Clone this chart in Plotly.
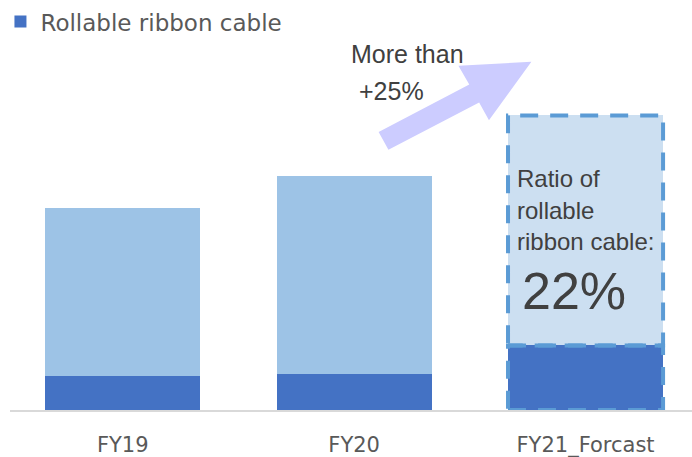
import plotly.graph_objects as go

# index values (FY19 total = 100)
years = ["FY19", "FY20", "FY21_Forcast"]
ribbon = [17, 18, 32]          # rollable ribbon cable
other = [83, 98, 114]          # rest of the bar
other_colors = ["#9DC3E6", "#9DC3E6", "#CCDFF1"]

W, H = 692, 457
L, R, T, B = 0, 0, 40, 47
PW, PH = W - L - R, H - T - B


def px_to_paper(x, y):
    return (x - L) / PW, (H - B - y) / PH


fig = go.Figure()
fig.add_trace(go.Bar(
    x=years, y=ribbon, name="Rollable ribbon cable",
    marker=dict(color="#4472C4", line=dict(width=0)), width=0.67,
))
fig.add_trace(go.Bar(
    x=years, y=other, name="Other", showlegend=False,
    marker=dict(color=other_colors, line=dict(width=0)), width=0.67,
))

# dashed outlines around the forecast bar
i = 2
total = ribbon[i] + other[i]
dash = dict(color="#5B9BD5", width=4, dash="18px,12px")
fig.add_shape(type="rect", xref="x", yref="y", x0=i - 0.335, x1=i + 0.335,
              y0=ribbon[i], y1=total, line=dash)
fig.add_shape(type="rect", xref="x", yref="y", x0=i - 0.335, x1=i + 0.335,
              y0=0, y1=ribbon[i], line=dash)

# big growth arrow
pts = [(374, 129), (466, 81), (455, 62), (529, 58), (486, 117), (476, 99), (384, 147)]
path = "M " + " L ".join("%.4f,%.4f" % px_to_paper(x, y) for x, y in pts) + " Z"
fig.add_shape(type="path", xref="paper", yref="paper", path=path,
              fillcolor="#CCCCFF", line=dict(width=0), layer="above")

txt = dict(family="Arial, Liberation Sans", color="#404040")
for t, (x, y) in [("More than", (344, 50)), ("+25%", (352, 88))]:
    xp, yp = px_to_paper(x, y)
    fig.add_annotation(text=t, x=xp, y=yp, xref="paper", yref="paper", showarrow=False,
                       xanchor="left", yanchor="middle", font=dict(size=25, **txt))

for k, t in enumerate(["Ratio of", "rollable", "ribbon cable:"]):
    xp, yp = px_to_paper(512, 176 + 32 * k)
    fig.add_annotation(text=t, x=xp, y=yp, xref="paper", yref="paper", showarrow=False,
                       xanchor="left", yanchor="middle", font=dict(size=24, **txt))
xp, yp = px_to_paper(517, 290)
fig.add_annotation(text="%d%%" % round(100 * ribbon[i] / total), x=xp, y=yp,
                   xref="paper", yref="paper", showarrow=False,
                   xanchor="left", yanchor="middle", font=dict(size=52, **txt))

fig.update_layout(
    width=W, height=H, barmode="stack",
    margin=dict(l=L, r=R, t=T, b=B),
    plot_bgcolor="white", paper_bgcolor="white",
    font=dict(family="DejaVu Sans, Verdana", color="#595959"),
    legend=dict(orientation="h", x=-0.014, y=1.12, xanchor="left", yanchor="top",
                font=dict(size=23, color="#595959"), itemwidth=30),
    xaxis=dict(range=[-0.487, 2.46], showline=True, linecolor="#D9D9D9", linewidth=2,
               ticks="", ticklabelstandoff=15, automargin=False,
               tickfont=dict(size=21, color="#595959")),
    yaxis=dict(range=[0, PH / 2.04], visible=False, automargin=False),
)

fig.write_html("out.html", config={"displayModeBar": False},
               post_script="document.body.style.margin='0px';")
